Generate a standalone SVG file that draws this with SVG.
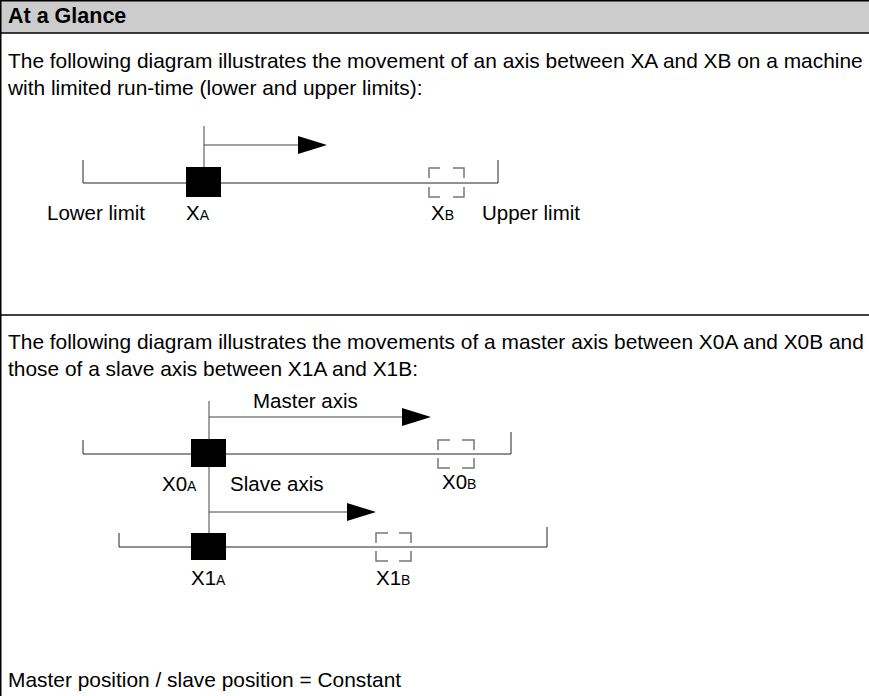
<svg xmlns="http://www.w3.org/2000/svg" width="869" height="696" viewBox="0 0 869 696">
  <style>
    .txt { font-family: "Liberation Sans", Arial, sans-serif; font-size: 20.5px; fill: #000; }
    .body { font-size: 20.9px; }
    .hdr { font-family: "Liberation Sans", Arial, sans-serif; font-size: 21.5px; font-weight: bold; fill: #000; }
    .sub { font-size: 14px; }
    .frame { stroke: #000; stroke-width: 1.5; fill: none; }
    .axis { stroke: #222; stroke-width: 1; fill: none; }
    .stem { stroke: #444; stroke-width: 1; fill: none; }
    .carriage { fill: #000; }
    .target { fill: none; stroke: #777; stroke-width: 1.5; }
  </style>
  <defs>
    <marker id="head" markerUnits="userSpaceOnUse" markerWidth="30" markerHeight="20" refX="0" refY="9" orient="auto">
      <polygon points="0,0 29,9 0,18" fill="#000"/>
    </marker>
  </defs>

  <!-- table frame -->
  <rect x="0" y="0" width="869" height="33" fill="#cccccc"/>
  <line class="frame" x1="0" y1="0.75" x2="869" y2="0.75"/>
  <line class="frame" x1="0" y1="33" x2="869" y2="33"/>
  <line class="frame" x1="0" y1="315" x2="869" y2="315"/>
  <line class="frame" x1="0.75" y1="0" x2="0.75" y2="696"/>
  <text class="hdr" x="8" y="23">At a Glance</text>

  <!-- first section text -->
  <text class="txt body" x="8" y="68">The following diagram illustrates the movement of an axis between XA and XB on a machine</text>
  <text class="txt body" x="8" y="95">with limited run-time (lower and upper limits):</text>

  <!-- connectors: stems and movement arrows (drawn beneath the carriages) -->
  <g id="connectors">
    <line class="stem" x1="204" y1="126" x2="204" y2="167"/>
    <line class="stem" x1="204" y1="145" x2="298" y2="145" marker-end="url(#head)"/>
    <line class="stem" x1="209" y1="401" x2="209" y2="533"/>
    <line class="stem" x1="209" y1="417" x2="402" y2="417" marker-end="url(#head)"/>
    <line class="stem" x1="209" y1="512" x2="347" y2="512" marker-end="url(#head)"/>
  </g>

  <!-- single axis diagram -->
  <g id="axis1">
    <path class="axis" d="M83,160 V183 H498 V160"/>
    <text class="txt" x="47" y="220">Lower limit</text>
    <text class="txt" x="482" y="220">Upper limit</text>
  </g>
  <g id="xa">
    <rect class="carriage" x="186" y="167" width="35" height="30"/>
    <text class="txt" x="186" y="220">X<tspan class="sub">A</tspan></text>
  </g>
  <g id="xb">
    <path class="target" d="M429,178 V168 H440 M453,168 H464 V178 M464,187 V197 H453 M440,197 H429 V187"/>
    <text class="txt" x="431" y="220">X<tspan class="sub">B</tspan></text>
  </g>

  <!-- second section text -->
  <text class="txt body" x="8" y="349">The following diagram illustrates the movements of a master axis between X0A and X0B and</text>
  <text class="txt body" x="8" y="376">those of a slave axis between X1A and X1B:</text>

  <!-- master axis -->
  <g id="master-axis">
    <path class="axis" d="M83,440 V454 H511 V432"/>
    <text class="txt" x="253" y="408">Master axis</text>
  </g>
  <g id="x0a">
    <rect class="carriage" x="191" y="439" width="35" height="28"/>
    <text class="txt" x="162" y="491">X0<tspan class="sub">A</tspan></text>
  </g>
  <g id="x0b">
    <path class="target" d="M438,450 V440 H450 M462,440 H474 V450 M474,458 V468 H462 M450,468 H438 V458"/>
    <text class="txt" x="442" y="489">X0<tspan class="sub">B</tspan></text>
  </g>

  <!-- slave axis -->
  <g id="slave-axis">
    <path class="axis" d="M119,533 V547 H547 V527"/>
    <text class="txt" x="230" y="491">Slave axis</text>
  </g>
  <g id="x1a">
    <rect class="carriage" x="191" y="533" width="35" height="27"/>
    <text class="txt" x="191" y="585">X1<tspan class="sub">A</tspan></text>
  </g>
  <g id="x1b">
    <path class="target" d="M376,543 V533 H388 M399,533 H411 V543 M411,551 V561 H399 M388,561 H376 V551"/>
    <text class="txt" x="376" y="585">X1<tspan class="sub">B</tspan></text>
  </g>

  <text class="txt body" x="8" y="687">Master position / slave position = Constant</text>
</svg>
